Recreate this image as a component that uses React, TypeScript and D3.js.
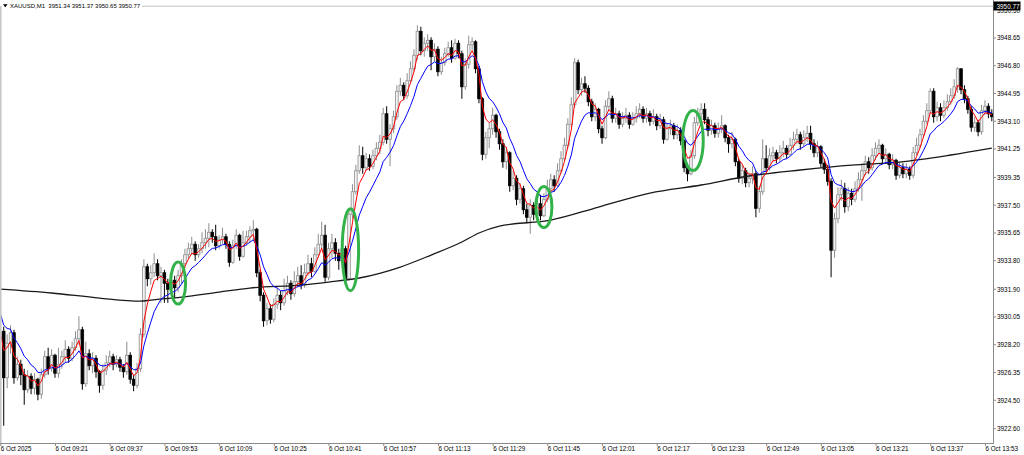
import React from "react";
import * as d3 from "d3";

// ---- data ----
const firstOpen = 3928.6;

const closes = [
  3929.1, 3926.0, 3928.3, 3929.0, 3926.0, 3926.9, 3926.2, 3925.2, 3926.1, 3925.3,
  3925.9, 3924.9, 3926.2, 3927.4, 3926.6, 3927.5, 3926.3, 3926.9, 3927.4, 3927.9,
  3927.3, 3928.0, 3928.6, 3929.2, 3925.6, 3927.6, 3926.8, 3927.3, 3926.4, 3925.5,
  3926.5, 3927.0, 3927.4, 3926.9, 3927.2, 3926.7, 3926.4, 3927.5, 3925.9, 3925.5,
  3926.6, 3928.9, 3933.4, 3932.6, 3933.0, 3933.6, 3932.8, 3933.0, 3932.3, 3931.9,
  3932.5, 3932.0, 3932.8, 3933.6, 3934.2, 3934.6, 3934.9, 3934.2, 3934.6, 3935.0,
  3935.3, 3935.7, 3935.4, 3934.8, 3935.2, 3935.4, 3934.9, 3933.7, 3934.8, 3935.5,
  3934.1, 3935.0, 3935.4, 3935.8, 3935.9, 3933.0, 3931.5, 3929.8, 3930.6, 3929.9,
  3930.9, 3931.5, 3931.0, 3931.8, 3932.3, 3931.6, 3932.4, 3932.8, 3932.2, 3933.0,
  3933.6, 3933.1, 3934.2, 3934.9, 3935.5, 3932.7, 3934.6, 3935.0, 3934.3, 3933.8,
  3934.6, 3932.6, 3936.9, 3938.4, 3939.8, 3940.8, 3940.0, 3940.6, 3940.1, 3940.8,
  3941.3, 3941.7, 3943.6, 3941.9, 3942.6, 3943.4, 3945.1, 3945.5, 3944.8, 3945.8,
  3946.6, 3947.5, 3949.1, 3947.8, 3948.3, 3948.5, 3947.4, 3947.9, 3946.4, 3947.0,
  3947.6, 3948.0, 3947.3, 3948.3, 3947.6, 3945.4, 3946.9, 3948.2, 3948.4, 3946.6,
  3944.6, 3940.9, 3942.0, 3942.6, 3943.5, 3942.4, 3941.6, 3940.4, 3941.0, 3938.8,
  3939.3, 3937.9, 3938.6, 3937.2, 3936.7, 3937.5, 3936.9, 3937.6, 3936.8, 3937.9,
  3938.6, 3939.2, 3938.8, 3939.8, 3940.6, 3941.5, 3942.9, 3944.2, 3947.0, 3945.2,
  3945.6, 3945.3, 3944.4, 3943.4, 3943.9, 3942.6, 3942.0, 3944.1, 3944.6, 3943.3,
  3943.6, 3942.9, 3943.3, 3943.5, 3942.9, 3943.3, 3943.6, 3943.9, 3943.3, 3943.6,
  3943.1, 3943.4, 3942.8, 3943.2, 3941.9, 3942.6, 3942.8, 3942.2, 3942.5, 3941.8,
  3940.0, 3939.6, 3940.8, 3943.0, 3943.6, 3943.9, 3943.2, 3942.5, 3942.8, 3942.3,
  3942.6, 3942.8, 3942.0, 3941.6, 3941.9, 3940.4, 3939.3, 3939.8, 3939.0, 3939.3,
  3939.6, 3937.3, 3938.4, 3940.6, 3940.0, 3940.8, 3941.0, 3940.6, 3941.0, 3941.3,
  3940.9, 3941.5, 3941.9, 3942.2, 3941.6, 3942.0, 3942.3, 3941.6, 3941.0, 3941.4,
  3940.3, 3939.9, 3939.1, 3934.5, 3936.6, 3938.2, 3938.6, 3937.4, 3938.3, 3937.9,
  3938.6, 3939.2, 3939.8, 3940.4, 3940.0, 3940.8, 3941.3, 3941.5, 3940.6, 3940.9,
  3940.2, 3940.5, 3939.5, 3940.0, 3939.6, 3939.9, 3939.5, 3941.0, 3941.5, 3942.2,
  3943.1, 3943.8, 3945.1, 3943.4, 3944.0, 3943.5, 3944.0, 3944.4, 3944.8, 3945.4,
  3946.6, 3945.2, 3944.6, 3943.9, 3942.7, 3943.0, 3942.4, 3943.8, 3944.1, 3943.6,
  3943.4,
];

const highs = [
  3930.2, 3929.4, 3928.9, 3929.5, 3929.2, 3927.4, 3927.2, 3926.6, 3926.5, 3926.3,
  3926.3, 3926.0, 3926.6, 3927.8, 3928.0, 3927.9, 3927.6, 3928.0, 3927.8, 3928.5,
  3928.1, 3928.4, 3929.1, 3930.1, 3929.4, 3928.4, 3927.9, 3927.7, 3927.5, 3926.5,
  3926.9, 3927.5, 3927.8, 3927.6, 3927.5, 3927.4, 3926.9, 3928.4, 3927.7, 3926.2,
  3927.0, 3929.3, 3933.9, 3933.6, 3933.5, 3934.3, 3933.9, 3933.4, 3933.2, 3932.6,
  3932.9, 3932.8, 3933.2, 3933.9, 3934.6, 3935.0, 3935.4, 3935.1, 3934.9, 3935.7,
  3935.9, 3936.3, 3935.9, 3936.2, 3935.5, 3936.0, 3935.6, 3935.1, 3935.2, 3935.9,
  3935.6, 3935.8, 3935.8, 3936.1, 3936.5, 3936.0, 3933.2, 3931.7, 3931.0, 3930.9,
  3931.3, 3932.0, 3931.8, 3932.6, 3932.8, 3932.5, 3933.1, 3933.4, 3933.5, 3933.6,
  3934.2, 3934.0, 3934.7, 3935.6, 3936.4, 3936.2, 3935.0, 3935.6, 3935.3, 3934.6,
  3935.0, 3934.8, 3937.3, 3938.9, 3940.2, 3941.5, 3941.4, 3941.0, 3940.9, 3941.2,
  3941.7, 3942.2, 3944.0, 3944.1, 3942.9, 3943.8, 3945.5, 3946.0, 3945.7, 3946.3,
  3947.1, 3947.9, 3949.5, 3949.4, 3948.7, 3948.9, 3948.7, 3948.3, 3948.1, 3947.4,
  3948.0, 3948.4, 3948.5, 3948.6, 3948.5, 3947.8, 3947.3, 3948.8, 3948.7, 3948.5,
  3946.8, 3944.7, 3942.4, 3943.0, 3944.0, 3943.6, 3942.6, 3941.9, 3941.4, 3941.1,
  3939.8, 3939.5, 3939.0, 3938.8, 3937.6, 3937.9, 3937.7, 3938.0, 3938.2, 3938.3,
  3939.2, 3939.6, 3939.5, 3940.3, 3941.1, 3942.0, 3943.3, 3944.7, 3947.3, 3947.2,
  3946.0, 3946.1, 3945.5, 3944.6, 3944.3, 3944.0, 3942.8, 3944.5, 3945.1, 3944.8,
  3944.0, 3943.8, 3943.7, 3944.0, 3943.7, 3943.7, 3944.1, 3944.3, 3944.1, 3944.0,
  3943.8, 3943.9, 3943.6, 3943.6, 3943.4, 3943.0, 3943.2, 3943.0, 3942.9, 3942.7,
  3941.9, 3940.3, 3941.2, 3943.4, 3944.0, 3944.3, 3944.3, 3943.4, 3943.2, 3943.0,
  3943.0, 3943.5, 3942.9, 3942.2, 3942.4, 3942.0, 3940.6, 3940.2, 3940.0, 3939.7,
  3940.1, 3939.8, 3938.8, 3941.9, 3941.5, 3941.3, 3941.4, 3941.2, 3941.5, 3941.8,
  3941.5, 3942.0, 3942.4, 3942.6, 3942.4, 3942.5, 3942.8, 3942.8, 3941.9, 3941.8,
  3941.5, 3940.6, 3940.2, 3939.3, 3937.0, 3938.7, 3939.2, 3939.0, 3938.7, 3938.6,
  3939.1, 3939.7, 3940.3, 3940.8, 3940.7, 3941.3, 3941.7, 3941.9, 3941.6, 3941.3,
  3941.0, 3940.9, 3940.6, 3940.4, 3940.3, 3940.3, 3940.1, 3941.4, 3942.0, 3942.6,
  3943.5, 3944.3, 3945.3, 3945.3, 3944.4, 3944.3, 3944.5, 3944.9, 3945.3, 3945.9,
  3946.7, 3946.6, 3945.5, 3944.8, 3944.1, 3943.4, 3943.2, 3944.2, 3944.5, 3944.3,
  3943.9,
];

const lows = [
  3928.3, 3922.8, 3925.3, 3927.6, 3925.6, 3925.8, 3925.5, 3924.2, 3925.0, 3924.9,
  3924.9, 3924.5, 3924.6, 3926.0, 3926.2, 3926.4, 3926.0, 3926.0, 3926.6, 3927.0,
  3927.0, 3927.1, 3927.8, 3928.2, 3925.2, 3925.4, 3926.5, 3926.3, 3926.0, 3925.0,
  3925.2, 3926.2, 3926.7, 3926.5, 3926.7, 3926.4, 3926.0, 3926.2, 3925.6, 3925.1,
  3925.3, 3926.4, 3928.7, 3932.1, 3932.2, 3932.7, 3932.5, 3931.0, 3931.0, 3931.0,
  3931.5, 3931.3, 3931.7, 3932.3, 3933.3, 3933.9, 3934.2, 3933.8, 3934.0, 3934.3,
  3934.6, 3934.7, 3935.0, 3934.5, 3934.6, 3934.9, 3934.6, 3933.4, 3933.6, 3934.6,
  3933.8, 3934.0, 3934.8, 3935.0, 3935.2, 3932.7, 3931.1, 3929.4, 3929.5, 3929.6,
  3929.7, 3930.6, 3930.5, 3930.8, 3931.5, 3931.2, 3931.4, 3932.0, 3931.9, 3932.0,
  3932.8, 3932.7, 3933.0, 3934.0, 3934.6, 3932.4, 3932.5, 3934.0, 3933.8, 3933.2,
  3933.5, 3932.3, 3932.5, 3936.6, 3938.2, 3939.6, 3939.6, 3939.8, 3939.8, 3939.9,
  3940.5, 3940.9, 3941.5, 3941.6, 3940.1, 3942.3, 3943.2, 3944.8, 3944.5, 3944.6,
  3945.6, 3946.4, 3947.2, 3947.5, 3947.4, 3947.8, 3946.5, 3947.1, 3946.1, 3946.2,
  3946.8, 3947.4, 3947.0, 3947.2, 3947.3, 3944.6, 3945.2, 3946.6, 3947.8, 3946.3,
  3944.3, 3940.5, 3940.6, 3941.3, 3942.2, 3942.0, 3941.2, 3940.0, 3939.9, 3938.4,
  3938.5, 3937.5, 3937.6, 3936.9, 3936.3, 3935.6, 3936.5, 3936.6, 3936.5, 3936.7,
  3937.7, 3938.4, 3938.4, 3938.7, 3939.6, 3940.4, 3941.3, 3942.7, 3944.0, 3944.9,
  3944.8, 3945.0, 3944.1, 3943.1, 3943.1, 3942.3, 3941.6, 3941.9, 3943.8, 3943.0,
  3943.0, 3942.6, 3942.7, 3943.0, 3942.6, 3942.8, 3943.0, 3943.3, 3943.0, 3943.0,
  3942.8, 3942.9, 3942.5, 3942.6, 3941.6, 3941.8, 3942.2, 3941.9, 3941.9, 3941.5,
  3939.7, 3939.1, 3939.5, 3940.6, 3942.8, 3943.2, 3942.9, 3942.1, 3942.2, 3942.0,
  3942.0, 3942.3, 3941.7, 3941.0, 3941.3, 3940.1, 3939.0, 3938.9, 3938.7, 3938.7,
  3938.9, 3936.7, 3937.0, 3938.2, 3939.7, 3939.8, 3940.4, 3940.3, 3940.4, 3940.7,
  3940.6, 3940.8, 3941.2, 3941.6, 3941.2, 3941.4, 3941.7, 3941.2, 3940.7, 3940.7,
  3940.0, 3939.6, 3938.8, 3932.7, 3934.0, 3936.3, 3937.8, 3937.0, 3937.1, 3937.5,
  3937.7, 3938.4, 3937.8, 3939.5, 3939.6, 3939.8, 3940.5, 3940.9, 3940.3, 3940.3,
  3939.9, 3939.9, 3939.2, 3939.3, 3939.3, 3939.3, 3939.2, 3939.3, 3940.8, 3941.3,
  3942.0, 3942.9, 3943.6, 3943.0, 3943.1, 3943.1, 3943.3, 3943.8, 3944.2, 3944.6,
  3945.0, 3944.9, 3944.3, 3943.6, 3942.4, 3942.4, 3942.1, 3942.2, 3943.5, 3943.3,
  3943.1,
];

// slow (200) moving average, sampled along the chart
const slowMaIdx = [0, 15, 29, 41, 44, 53, 64, 73, 88, 96, 105, 117, 126, 135, 140, 146, 161, 175, 190, 205, 219, 234, 249, 263, 278, 290];
const slowMaVal = [
  3931.91, 3931.65, 3931.31, 3931.11, 3931.18, 3931.38, 3931.71, 3931.98, 3932.18, 3932.38,
  3932.65, 3933.38, 3934.18, 3935.05, 3935.65, 3936.11, 3936.51, 3937.38, 3938.31, 3938.85,
  3939.45, 3939.85, 3940.18, 3940.38, 3940.85, 3941.31,
];

const timeLabels = [
  "6 Oct 2025", "6 Oct 09:21", "6 Oct 09:37", "6 Oct 09:53", "6 Oct 10:09", "6 Oct 10:25",
  "6 Oct 10:41", "6 Oct 10:57", "6 Oct 11:13", "6 Oct 11:29", "6 Oct 11:45", "6 Oct 12:01",
  "6 Oct 12:17", "6 Oct 12:33", "6 Oct 12:49", "6 Oct 13:05", "6 Oct 13:21", "6 Oct 13:37",
  "6 Oct 13:53",
];
const barsPerLabel = 16;

const priceTicks = [
  3948.65, 3946.8, 3944.95, 3943.1, 3941.25, 3939.35, 3937.5, 3935.65, 3933.8,
  3931.9, 3930.05, 3928.2, 3926.35, 3924.5, 3922.6,
];
const hiddenTick = 3950.5;
const lastPrice = 3950.77;
const headerText = "XAUUSD,M1  3951.34 3951.37 3950.65 3950.77";

// green highlight ellipses (bar index, price, half width in bars, half height in price)
const annIdx = [52.0, 102.4, 159.0, 202.6];
const annPrice = [3932.31, 3934.53, 3937.38, 3941.81];
const annHalfBars = [2.2, 2.4, 2.35, 3.0];
const annHalfPrice = [1.4, 2.73, 1.37, 2.0];

// ---- chart ----
const W = 1024;
const H = 455;
const AXIS_X = 993;
const AXIS_Y = 443;
const FONT = "'Liberation Sans', Arial, sans-serif";

function ema(values: number[], period: number, seed: number) {
  const a = 2 / (period + 1);
  let v = seed;
  return values.map((c) => (v = v + a * (c - v)));
}

export default function App() {
  const x = d3.scaleLinear().domain([0, 290]).range([0.3, 991.8]);
  const y = d3.scaleLinear().domain([3922.6, 3948.65]).range([428.75, 38]);

  const opens = closes.map((c, i) => (i === 0 ? firstOpen : closes[i - 1]));
  const fast = ema(closes, 4, 3929.0);
  const mid = ema(closes, 10, 3930.55);

  const lineGen = d3
    .line<number>()
    .x((_, i) => x(i))
    .y((d) => y(d));
  const slowGen = d3
    .line<number>()
    .x((_, i) => x(slowMaIdx[i]))
    .y((d) => y(d))
    .curve(d3.curveMonotoneX);

  const bodyW = 2.6;
  const upColor = "#8e8e8e";

  return (
    <div style={{ position: "absolute", left: 0, top: 0 }}>
      <svg width={W} height={H} style={{ display: "block", background: "#fff" }} fontFamily={FONT}>
        <defs>
          <clipPath id="plotClip">
            <rect x={0} y={0} width={AXIS_X} height={AXIS_Y} />
          </clipPath>
          <clipPath id="belowBox">
            <rect x={AXIS_X + 1} y={10.5} width={40} height={10} />
          </clipPath>
        </defs>
        <rect x={0} y={0} width={W} height={H} fill="#fff" />

        {/* bid line */}
        <line x1={142} x2={AXIS_X} y1={y(lastPrice)} y2={y(lastPrice)} stroke="#c4c4c4" strokeWidth={1} />

        <g clipPath="url(#plotClip)">
          {closes.map((c, i) => {
            const o = opens[i];
            const hi = Math.max(highs[i], o, c);
            const lo = Math.min(lows[i], o, c);
            const up = c >= o;
            const cx = x(i);
            const top = y(Math.max(o, c));
            const h = Math.max(0.8, Math.abs(y(o) - y(c)));
            return (
              <g key={i}>
                <line x1={cx} x2={cx} y1={y(hi)} y2={y(lo)} stroke={up ? upColor : "#000"} strokeWidth={1} />
                <rect
                  x={cx - bodyW / 2}
                  y={top}
                  width={bodyW}
                  height={h}
                  fill={up ? "#f2f2f2" : "#000"}
                  stroke={up ? upColor : "#000"}
                  strokeWidth={0.8}
                />
              </g>
            );
          })}
          <path d={slowGen(slowMaVal) || ""} fill="none" stroke="#1a1a1a" strokeWidth={1.3} />
          <path d={lineGen(mid) || ""} fill="none" stroke="#0000ff" strokeWidth={1} />
          <path d={lineGen(fast) || ""} fill="none" stroke="#ff0000" strokeWidth={1} />
        </g>

        {/* highlight ellipses */}
        {annIdx.map((a, k) => (
          <ellipse
            key={k}
            cx={x(a)}
            cy={y(annPrice[k])}
            rx={x(a + annHalfBars[k]) - x(a)}
            ry={y(annPrice[k] - annHalfPrice[k]) - y(annPrice[k])}
            fill="none"
            stroke="#33b249"
            strokeWidth={3}
          />
        ))}

        {/* frame */}
        <rect x={0} y={6} width={1.6} height={AXIS_Y - 6} fill="#c8c8c8" />
        <line x1={0} x2={AXIS_X} y1={AXIS_Y + 0.5} y2={AXIS_Y + 0.5} stroke="#8a8a8a" strokeWidth={1} />
        <line x1={AXIS_X + 0.5} x2={AXIS_X + 0.5} y1={0} y2={AXIS_Y + 1} stroke="#8a8a8a" strokeWidth={1} />

        {/* price axis */}
        {priceTicks.map((p) => (
          <g key={p}>
            <line x1={AXIS_X} x2={AXIS_X + 3} y1={y(p)} y2={y(p)} stroke="#8a8a8a" strokeWidth={1} />
            <text x={AXIS_X + 4} y={y(p) + 2.3} fontSize={6.4} fill="#000">
              {p.toFixed(2)}
            </text>
          </g>
        ))}
        {/* label mostly covered by the current-price box: only its lower edge shows */}
        <g clipPath="url(#belowBox)">
          <text x={AXIS_X + 4} y={y(hiddenTick) + 2.3} fontSize={6.4} fill="#000">
            {hiddenTick.toFixed(2)}
          </text>
        </g>
        <rect x={AXIS_X + 0.5} y={1.5} width={27} height={9} fill="#000" />
        <text x={AXIS_X + 3.5} y={y(lastPrice) + 2.3} fontSize={6.4} fill="#fff">
          {lastPrice.toFixed(2)}
        </text>

        {/* time axis */}
        {timeLabels.map((t, k) => {
          const tx = x(k * barsPerLabel);
          return (
            <g key={t}>
              <line x1={tx + 0.5} x2={tx + 0.5} y1={AXIS_Y} y2={AXIS_Y + 3} stroke="#8a8a8a" strokeWidth={1} />
              <text x={tx + 0.5} y={450.5} fontSize={6.3} fill="#000">
                {t}
              </text>
            </g>
          );
        })}

        {/* header */}
        <path d="M3,4.3 L7.6,4.3 L5.3,7.3 Z" fill="#000" />
        <text x={10} y={8.4} fontSize={6} fill="#000" xmlSpace="preserve" style={{ whiteSpace: "pre" }}>
          {headerText}
        </text>
      </svg>
    </div>
  );
}
